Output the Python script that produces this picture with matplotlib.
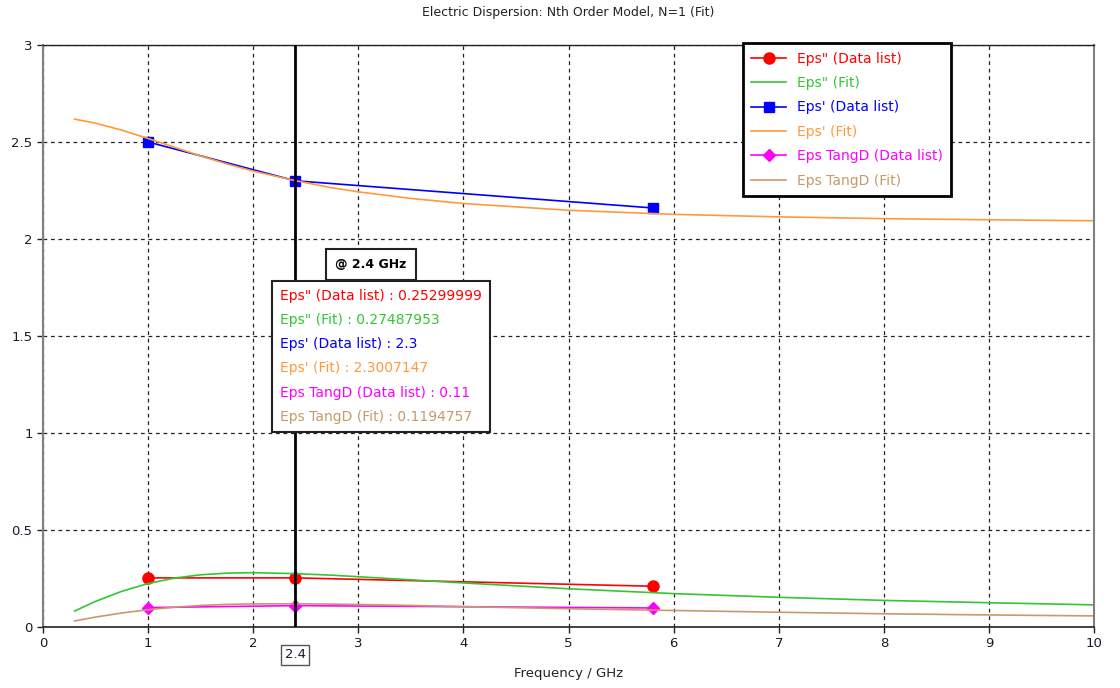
import numpy as np
import matplotlib.pyplot as plt
from matplotlib.offsetbox import TextArea, VPacker, AnnotationBbox

plt.rcParams['font.family'] = 'DejaVu Sans'

# punkty pomiarowe
f_data = [1.0, 2.4, 5.8]
eps2_data = [0.253, 0.25299999, 0.21]
eps1_data = [2.5, 2.3, 2.16]
tand_data = [0.1, 0.11, 0.098]

# dopasowanie (model rzedu N=1)
f_fit = [0.3, 0.5, 0.75, 1.0, 1.25, 1.5, 1.75, 2.0, 2.4, 2.75, 3.0, 3.5, 4.0,
         5.0, 6.0, 7.0, 8.0, 9.0, 10.0]
eps1_fit = [2.618, 2.597, 2.561, 2.518, 2.473, 2.428, 2.387, 2.350, 2.3007147,
            2.264, 2.243, 2.209, 2.183, 2.148, 2.127, 2.114, 2.105, 2.099, 2.094]
eps2_fit = [0.082, 0.132, 0.184, 0.224, 0.252, 0.269, 0.2775, 0.280, 0.27487953,
            0.267, 0.259, 0.243, 0.227, 0.197, 0.172, 0.153, 0.137, 0.125, 0.114]
tand_fit = [0.031, 0.051, 0.072, 0.089, 0.102, 0.111, 0.1165, 0.119, 0.1194757,
            0.118, 0.116, 0.111, 0.105, 0.094, 0.085, 0.076, 0.068, 0.062, 0.057]

f_mark = 2.4

c_red = '#ff0000'
c_green = '#33c633'
c_blue = '#0000ff'
c_orange = '#ff9a3c'
c_mag = '#ff00ff'
c_tan = '#c8996a'

fig = plt.figure(figsize=(11.2, 6.88), dpi=100)
ax = fig.add_axes([0.0384, 0.0887, 0.9384, 0.8459])

ax.plot(f_data, eps2_data, color=c_red, lw=1.2, marker='o', ms=8, label='Eps" (Data list)')
ax.plot(f_fit, eps2_fit, color=c_green, lw=1.2, label='Eps" (Fit)')
ax.plot(f_data, eps1_data, color=c_blue, lw=1.2, marker='s', ms=7, label="Eps' (Data list)")
ax.plot(f_fit, eps1_fit, color=c_orange, lw=1.2, label="Eps' (Fit)")
ax.plot(f_data, tand_data, color=c_mag, lw=1.2, marker='D', ms=6, label='Eps TangD (Data list)')
ax.plot(f_fit, tand_fit, color=c_tan, lw=1.2, label='Eps TangD (Fit)')

ax.axvline(f_mark, color='black', lw=2, zorder=5)

ax.set_xlim(0, 10)
ax.set_ylim(0, 3)
ax.set_xticks(np.arange(0, 11, 1))
ax.set_yticks(np.arange(0, 3.01, 0.5))
ax.set_yticklabels(['0', '0.5', '1', '1.5', '2', '2.5', '3'])
ax.grid(True, color='#222222', linestyle=(0, (3, 3)), lw=0.9)
ax.tick_params(direction='out', length=4, width=1, colors='#222222', labelsize=9.5,
               labelcolor='#1a1a2a')
for s in ['left', 'right']:
    ax.spines[s].set_color('#808080')
    ax.spines[s].set_linewidth(1.5)
ax.spines['bottom'].set_color('#222222')
ax.spines['bottom'].set_linewidth(1.2)
ax.spines['top'].set_color('#222222')
ax.spines['top'].set_linewidth(1.0)

ax.set_xlabel('Frequency / GHz', fontsize=9.5, color='#222222', labelpad=12)
fig.text(0.507, 0.992, 'Electric Dispersion: Nth Order Model, N=1 (Fit)',
         ha='center', va='top', fontsize=9, color='#222222')

# etykieta 2.4 na osi x
ax.annotate(f'{f_mark:g}', xy=(f_mark, 0), xycoords='data', xytext=(0, -20),
            textcoords='offset points', ha='center', va='center', fontsize=9.5,
            color='#1a1a2a',
            bbox=dict(boxstyle='square,pad=0.25', fc='white', ec='#555555', lw=1))

leg = ax.legend(loc='upper left', bbox_to_anchor=(0.666, 1.003), fontsize=10,
                frameon=True, fancybox=False, edgecolor='black', framealpha=1,
                handlelength=2.5, labelspacing=0.75, borderpad=0.6, handletextpad=0.8,
                borderaxespad=0)
leg.get_frame().set_linewidth(2)
for txt, line in zip(leg.get_texts(), leg.get_lines()):
    txt.set_color(line.get_color())

# odczyt wartosci przy 2.4 GHz
i2 = f_data.index(f_mark)
j2 = f_fit.index(f_mark)
rows = [
    (f'Eps" (Data list) : {eps2_data[i2]:.8g}', c_red),
    (f'Eps" (Fit) : {eps2_fit[j2]:.8g}', c_green),
    (f"Eps' (Data list) : {eps1_data[i2]:.8g}", c_blue),
    (f"Eps' (Fit) : {eps1_fit[j2]:.8g}", c_orange),
    (f'Eps TangD (Data list) : {tand_data[i2]:.8g}', c_mag),
    (f'Eps TangD (Fit) : {tand_fit[j2]:.8g}', c_tan),
]
areas = [TextArea(t, textprops=dict(color=c, fontsize=10)) for t, c in rows]
pack = VPacker(children=areas, align='left', pad=0, sep=7.3)
ab = AnnotationBbox(pack, (0.2255, 0.5808), xycoords='axes fraction',
                    box_alignment=(0, 1), pad=0.6, frameon=True, zorder=10,
                    bboxprops=dict(boxstyle='square,pad=0.6', fc='white', ec='#222222', lw=1.5))
ax.add_artist(ab)

ax.text(0.312, 0.623, f'@ {f_mark:g} GHz', transform=ax.transAxes, ha='center',
        va='center', fontsize=9, fontweight='bold', color='black', zorder=9,
        bbox=dict(boxstyle='square,pad=0.75', fc='white', ec='#222222', lw=1.5))

plt.savefig('out.png', dpi=100)
